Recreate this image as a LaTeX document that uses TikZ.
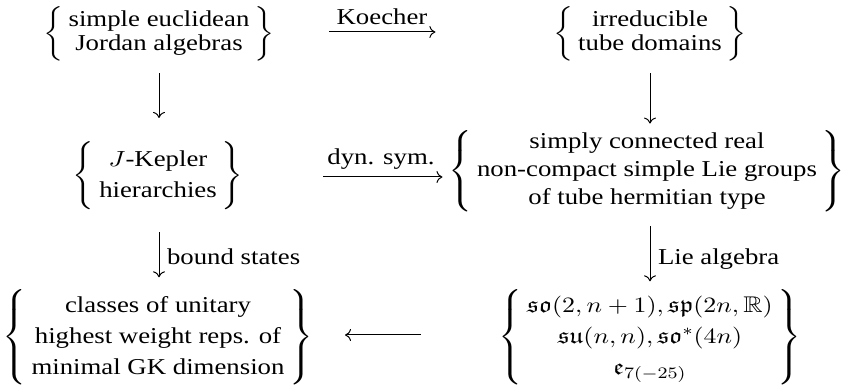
\documentclass[tikz,border=0pt]{standalone}
\usepackage{amsmath,amssymb}
\usepackage[no-math]{fontspec}
\setmainfont{Liberation Serif}
\usetikzlibrary{arrows.meta}
\setlength\tabcolsep{2pt}
% a braced, centred set of lines; #1 is the row stretch
\newcommand\bset[2]{$\renewcommand\arraystretch{#1}\left\{\begin{tabular}{c}#2\end{tabular}\right\}$}
\begin{document}
\begin{tikzpicture}[x=0.5pt,y=-0.5pt,
  every node/.style={inner sep=0pt,outer sep=0pt,xscale=1.18,
    font=\fontsize{11.35}{12}\selectfont},
  arr/.style={-{Computer Modern Rightarrow[width=6pt,length=3pt]},line width=0.5pt},
  lbl/.style={anchor=base}]
\useasboundingbox (0,0) rectangle (841,389);

% the six sets
\node (tl) at (159,34) {\bset{1}{simple euclidean\\Jordan algebras}};
\node (tr) at (650,34) {\bset{1}{irreducible\\tube domains}};
\node (ml) at (158,176) {\bset{1.29}{$J$-Kepler\\hierarchies}};
\node (mr) at (647,171) {\bset{1.15}{simply connected real\\non-compact simple Lie groups\\of tube hermitian type}};
\node (bl) at (158,337) {\bset{1.29}{classes of unitary\\highest weight reps. of\\minimal GK dimension}};
\node (br) at (650,337) {\bset{1.29}{$\mathfrak{so}(2,n+1),\mathfrak{sp}(2n,\mathbb{R})$\\$\mathfrak{su}(n,n),\mathfrak{so}^*(4n)$\\$\mathfrak{e}_{7(-25)}$}};

% arrow labels
\node[lbl] (koe) at (382,25) {Koecher};
\node[lbl] (dyn) at (381,165) {dyn. sym.};
\node[lbl,anchor=base west] (bnd) at (167,265) {bound states};
\node[lbl,anchor=base west] (lie) at (658,265) {Lie algebra};

% maps
\draw[arr,shorten <=27.5pt,shorten >=59pt] (tl.east |- 0,32) -- (tr.west |- 0,32);
\draw[arr,shorten <=40pt,shorten >=3pt] (ml.east |- 0,177) -- (mr.west |- 0,177);
\draw[arr,shorten <=39pt,shorten >=16pt] (br.west |- 0,335) -- (bl.east |- 0,335);
\draw[arr,shorten <=6pt,shorten >=12pt] (tl.south) -- (tl.south |- ml.north);
\draw[arr,shorten <=6pt,shorten >=3pt] (tr.south) -- (tr.south |- mr.north);
\draw[arr,shorten <=11pt,shorten >=6pt] (tl.south |- ml.south) -- (tl.south |- bl.north);
\draw[arr,shorten <=7pt,shorten >=4pt] (tr.south |- mr.south) -- (tr.south |- br.north);
\end{tikzpicture}
\end{document}
